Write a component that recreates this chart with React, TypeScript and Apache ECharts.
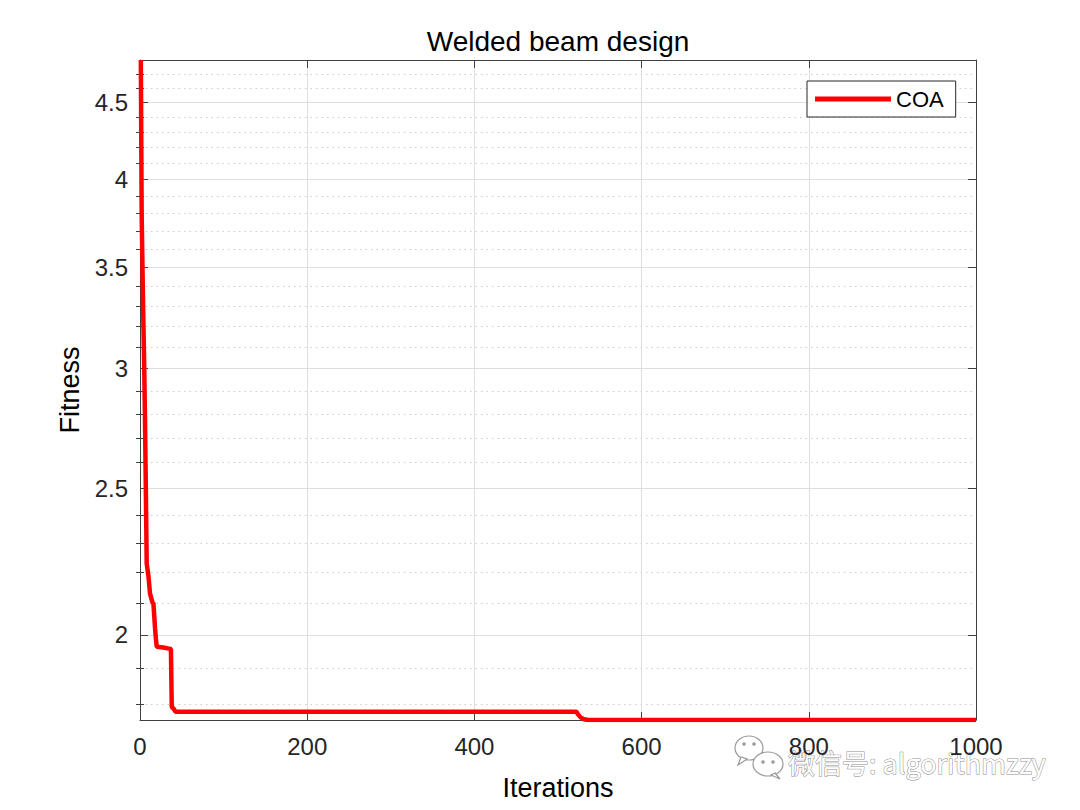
import React, { useEffect, useRef } from "react";
import * as echarts from "echarts";

// ---- data ----
const iterations = [1, 2, 3, 4, 5, 6, 7, 8, 9, 10, 11, 12, 13, 14, 15, 16, 17, 18, 19, 20, 28, 36, 37, 38, 40, 42, 43, 522, 524, 527, 531, 536, 1000];
const fitness = [4.8, 3.79, 3.49, 3.23, 3.02, 2.77, 2.49, 2.23, 2.21, 2.19, 2.16, 2.13, 2.12, 2.11, 2.1, 2.1, 2.06, 2.02, 1.99, 1.964, 1.962, 1.958, 1.957, 1.792, 1.788, 1.781, 1.779, 1.779, 1.772, 1.764, 1.759, 1.757, 1.757];
const majorTicks = [2, 2.5, 3, 3.5, 4, 4.5];
const minorTicks = [1.8, 1.9, 2.1, 2.2, 2.3, 2.4, 2.6, 2.7, 2.8, 2.9, 3.1, 3.2, 3.3, 3.4, 3.6, 3.7, 3.8, 3.9, 4.1, 4.2, 4.3, 4.4, 4.6, 4.7];
const yMin = 1.757;
const yMax = 4.8;
const xTicks = [0, 200, 400, 600, 800, 1000];
const seriesName = "COA";

const lg = (v: number) => Math.log10(v);

export default function App() {
  const ref = useRef<HTMLDivElement>(null);
  useEffect(() => {
    if (!ref.current) return;
    const chart = echarts.init(ref.current, undefined, { renderer: "svg" });
    const font = "'Liberation Sans', Arial, Helvetica, sans-serif";
    const axisColor = "#404040";
    const ymin = lg(yMin);
    const ymax = lg(yMax);
    const baseY = {
      type: "value" as const,
      min: ymin,
      max: ymax,
      scale: true,
    };
    const majorVals = majorTicks.map(lg);
    const minorVals = minorTicks.map(lg);
    const option: any = {
      animation: false,
      backgroundColor: "#ffffff",
      title: {
        text: "Welded beam design",
        left: 553,
        textAlign: "center",
        top: 22,
        textStyle: { fontFamily: font, fontSize: 28, fontWeight: "normal", color: "#000" },
      },
      legend: {
        left: 807,
        top: 81,
        orient: "horizontal",
        data: [{ name: seriesName, icon: "rect" }],
        itemWidth: 76,
        itemHeight: 5,
        padding: [6, 12, 6, 8],
        backgroundColor: "#ffffff",
        borderColor: "#262626",
        borderWidth: 1,
        borderRadius: 0,
        textStyle: { fontFamily: font, fontSize: 22, color: "#000", lineHeight: 24 },
      },
      grid: { left: 140, right: 104, top: 60, bottom: 90, containLabel: false },
      xAxis: [
        {
          type: "value",
          min: xTicks[0],
          max: xTicks[xTicks.length - 1],
          interval: 200,
          position: "bottom",
          name: "Iterations",
          nameLocation: "middle",
          nameGap: 54,
          nameTextStyle: { fontFamily: font, fontSize: 27, color: "#000" },
          axisLine: { show: true, lineStyle: { color: axisColor, width: 1 } },
          axisTick: { show: true, inside: true, length: 8, lineStyle: { color: axisColor } },
          axisLabel: {
            fontFamily: font,
            fontSize: 24,
            color: "#262626",
            margin: 14,
            formatter: (v: number) => String(Math.round(v)),
          },
          splitLine: { show: true, lineStyle: { color: "#dedede", width: 1 } },
        },
        {
          type: "value",
          min: xTicks[0],
          max: xTicks[xTicks.length - 1],
          interval: 200,
          position: "top",
          axisLine: { show: true, onZero: false, lineStyle: { color: axisColor, width: 1 } },
          axisTick: { show: true, inside: true, length: 8, lineStyle: { color: axisColor } },
          axisLabel: { show: false },
          splitLine: { show: false },
        },
      ],
      yAxis: [
        {
          ...baseY,
          position: "left",
          name: "Fitness",
          nameLocation: "middle",
          nameGap: 56,
          nameRotate: 90,
          nameTextStyle: { fontFamily: font, fontSize: 27, color: "#000" },
          axisLine: { show: true, onZero: false, lineStyle: { color: axisColor, width: 1 } },
          axisTick: { show: true, inside: true, length: 8, customValues: majorVals, lineStyle: { color: axisColor } },
          axisLabel: {
            show: true,
            customValues: majorVals,
            fontFamily: font,
            fontSize: 24,
            color: "#262626",
            margin: 12,
            formatter: (v: number) => {
              const t = majorTicks.find((m) => Math.abs(lg(m) - v) < 1e-6);
              return t !== undefined ? String(t) : "";
            },
          },
          splitLine: { show: true, lineStyle: { color: "#dedede", width: 1 } },
        },
        {
          ...baseY,
          position: "left",
          axisLine: { show: false },
          axisTick: { show: true, inside: true, length: 4, customValues: minorVals, lineStyle: { color: axisColor } },
          axisLabel: { show: false },
          splitLine: { show: true, lineStyle: { color: "#cccccc", width: 1, type: [1.5, 4] } },
        },
        {
          ...baseY,
          position: "right",
          axisLine: { show: true, onZero: false, lineStyle: { color: axisColor, width: 1 } },
          axisTick: { show: true, inside: true, length: 8, customValues: majorVals, lineStyle: { color: axisColor } },
          axisLabel: { show: false },
          splitLine: { show: false },
        },
        {
          ...baseY,
          position: "right",
          axisLine: { show: false },
          axisTick: { show: true, inside: true, length: 4, customValues: minorVals, lineStyle: { color: axisColor } },
          axisLabel: { show: false },
          splitLine: { show: false },
        },
      ],
      series: [
        {
          name: seriesName,
          type: "line",
          xAxisIndex: 0,
          yAxisIndex: 0,
          showSymbol: false,
          symbol: "none",
          clip: true,
          color: "#ff0000",
          lineStyle: { color: "#ff0000", width: 4.5 },
          data: iterations.map((it, i) => [it, lg(fitness[i])]),
          z: 5,
        },
      ],
      graphic: [
        {
          type: "group",
          z: 100,
          children: [
            { type: "ellipse", shape: { cx: 749, cy: 748, rx: 14, ry: 12 }, style: { fill: "#ffffff", stroke: "#9a9a9a", lineWidth: 1.2 } },
            { type: "polygon", shape: { points: [[741, 757], [738, 765], [747, 759]] }, style: { fill: "#ffffff", stroke: "#9a9a9a", lineWidth: 1.2 } },
            { type: "circle", shape: { cx: 744, cy: 744, r: 1.8 }, style: { fill: "#9a9a9a" } },
            { type: "circle", shape: { cx: 754, cy: 744, r: 1.8 }, style: { fill: "#9a9a9a" } },
            { type: "ellipse", shape: { cx: 768, cy: 764, rx: 15, ry: 12 }, style: { fill: "#ffffff", stroke: "#9a9a9a", lineWidth: 1.2 } },
            { type: "polygon", shape: { points: [[775, 773], [780, 779], [771, 775]] }, style: { fill: "#ffffff", stroke: "#9a9a9a", lineWidth: 1.2 } },
            { type: "circle", shape: { cx: 763, cy: 762, r: 1.8 }, style: { fill: "#9a9a9a" } },
            { type: "circle", shape: { cx: 773, cy: 762, r: 1.8 }, style: { fill: "#9a9a9a" } },
            {
              type: "text",
              x: 788,
              y: 762,
              style: {
                text: "微信号: algorithmzzy",
                font: "27px 'Noto Sans CJK SC', sans-serif",
                fill: "#ffffff",
                stroke: "#8c8c8c",
                lineWidth: 1,
                verticalAlign: "middle",
                align: "left",
              },
            },
          ],
        },
      ],
    };
    chart.setOption(option);
    return () => chart.dispose();
  }, []);
  return <div ref={ref} style={{ width: 1080, height: 810, position: "absolute", left: 0, top: 0 }} />;
}
